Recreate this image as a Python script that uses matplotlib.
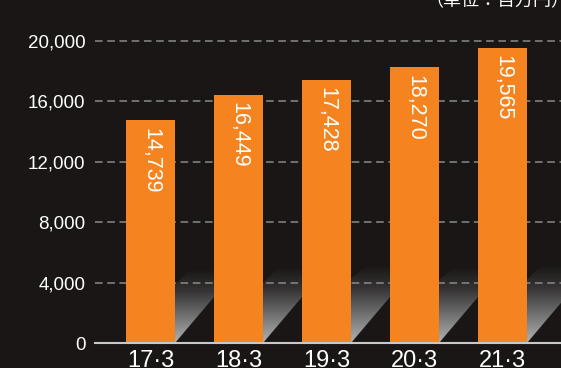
import numpy as np
import matplotlib.pyplot as plt
from matplotlib.colors import LinearSegmentedColormap
from matplotlib.patches import Polygon

# net sales by fiscal year (million yen)
years = ['17·3', '18·3', '19·3', '20·3', '21·3']
sales = [14739, 16449, 17428, 18270, 19565]
yticks = [0, 4000, 8000, 12000, 16000, 20000]

# floor "shadow" heights behind each bar
shadow_lo = [3900, 4000, 4300, 4200, 4200]
shadow_hi = [4900, 5000, 5100, 5000, 5200]

bg = '#1a1616'
orange = '#f58420'
w = 0.557
gap = 1 - w
rise = 3050

plt.rcParams['font.family'] = ['Liberation Sans', 'Noto Sans CJK JP', 'DejaVu Sans']

fig = plt.figure(figsize=(5.61, 3.68), dpi=100, facecolor=bg)
ax = fig.add_axes([95 / 561, 25 / 368, 466 / 561, 323 / 368], facecolor=bg)

x = np.arange(len(years))
xlim = ((95 - 150.5) / 88, (561 - 150.5) / 88)
ylim = (0, 20000 * 323 / 302)

cmap = LinearSegmentedColormap.from_list(
    'floor', [(0, '#b2b2b2'), (0.35, '#747474'), (0.7, '#363434'), (1, bg)])
grad = np.linspace(0, 1, 256).reshape(-1, 1)

for i in x:
    r = i + w / 2
    l = r + gap
    lo, hi = shadow_lo[i], shadow_hi[i]
    poly = Polygon([(r, 0), (r, lo), (r + 0.18, hi), (l, hi), (l, rise)],
                   closed=True, facecolor='none', edgecolor='none')
    ax.add_patch(poly)
    im = ax.imshow(grad, cmap=cmap, aspect='auto', origin='lower',
                   extent=(r, l, 0, hi), zorder=1, interpolation='bilinear')
    im.set_clip_path(poly)

ax.set_xlim(*xlim)
ax.set_ylim(*ylim)

for yv in yticks[1:]:
    ax.axhline(yv, color='#8a8a8a', lw=1.1, ls=(0, (5, 3)), zorder=1.5)

ax.bar(x, sales, width=w, color=orange, zorder=2)

for xi, v in zip(x, sales):
    ax.text(xi, v - 500, f'{v:,}', rotation=270, ha='center', va='top',
            color='white', fontsize=15.5, zorder=3)

for s in ['top', 'left', 'right']:
    ax.spines[s].set_visible(False)
ax.spines['bottom'].set_color('#c8c8c8')
ax.spines['bottom'].set_linewidth(1.5)
ax.spines['bottom'].set_zorder(4)

ax.set_xticks(x)
ax.set_xticklabels(years, fontsize=17, color='white')
ax.set_yticks(yticks)
ax.set_yticklabels([f'{v:,}' for v in yticks], fontsize=13.5, color='white')
ax.tick_params(axis='both', length=0)
ax.tick_params(axis='y', pad=7)
ax.tick_params(axis='x', pad=5)

fig.text(1 + 8 / 561, 1 - 6 / 368, '（単位：百万円）', ha='right', va='baseline',
         color='white', fontsize=13)

fig.savefig('out.png', dpi=100, facecolor=bg)
